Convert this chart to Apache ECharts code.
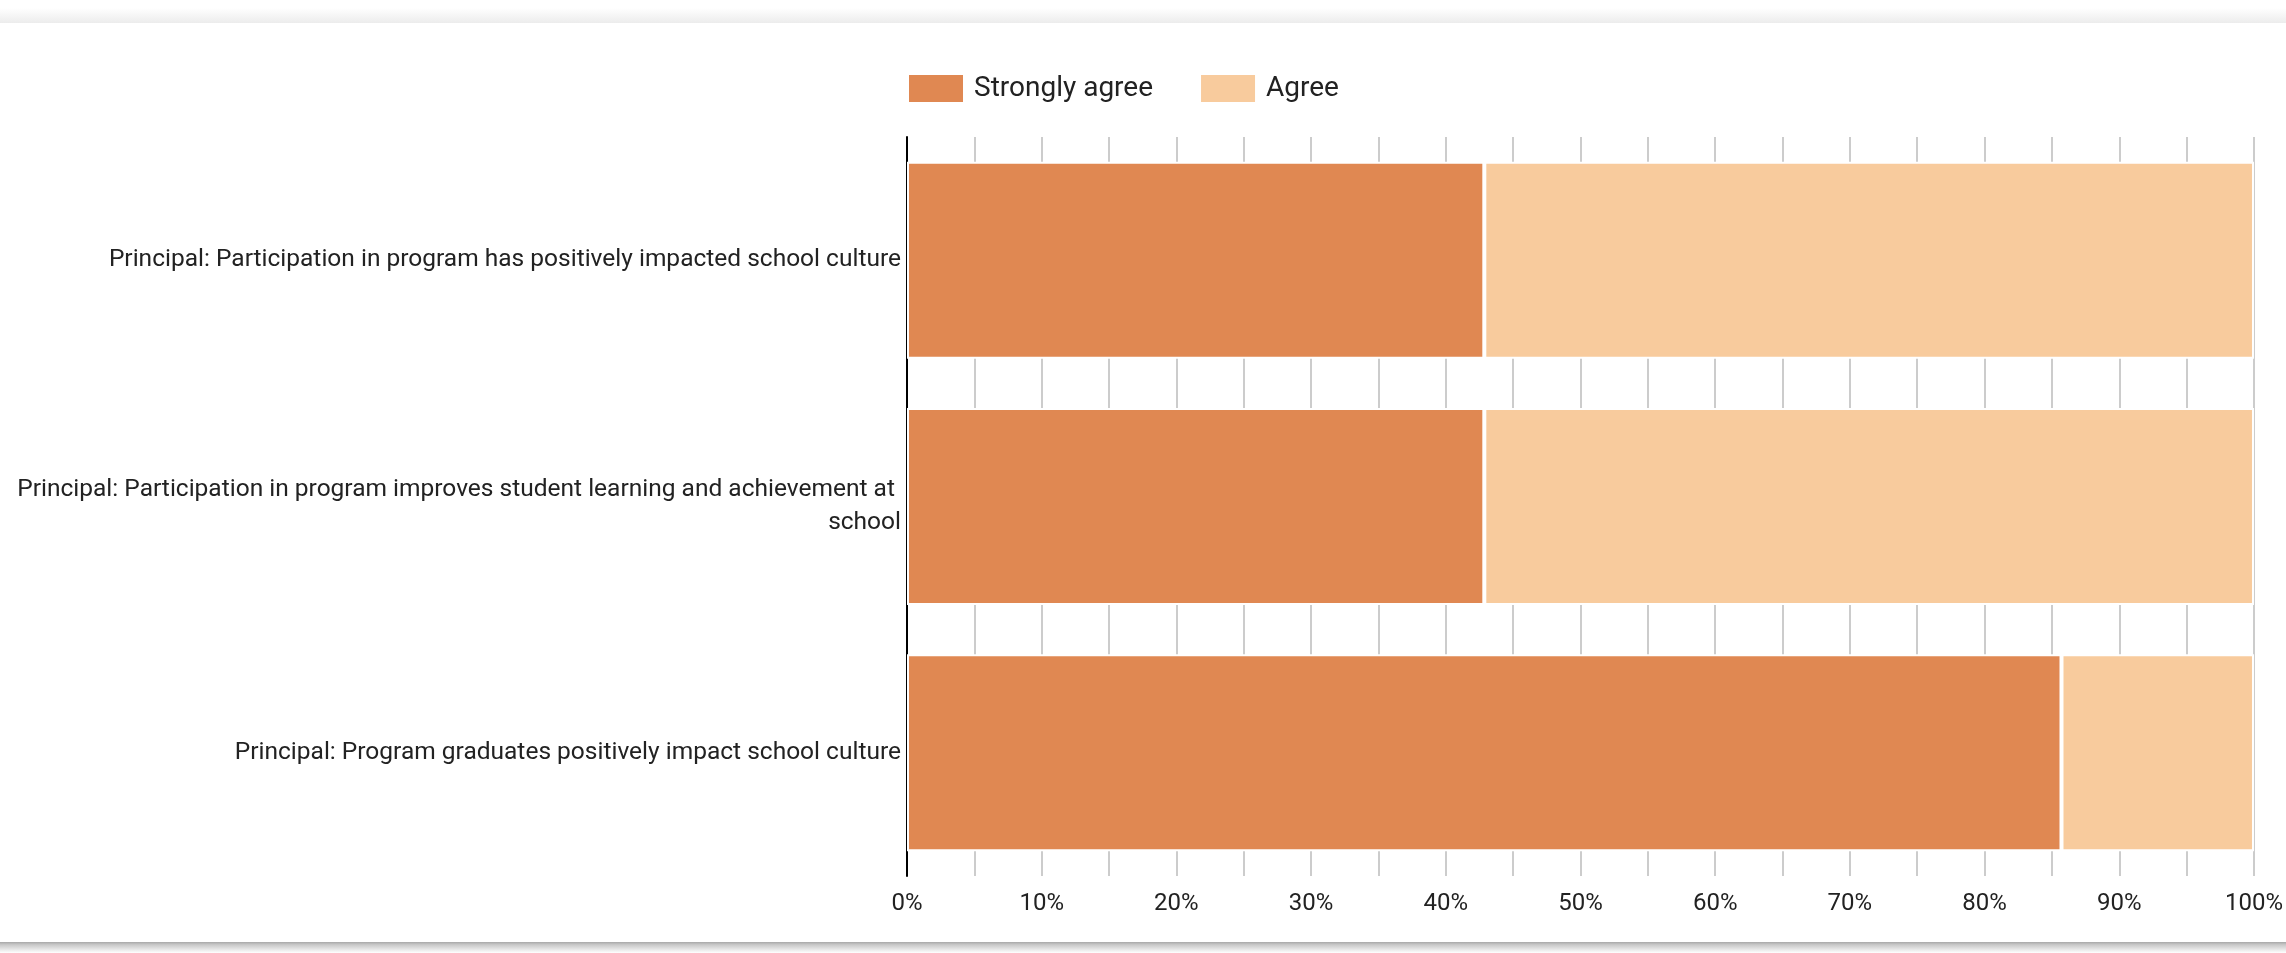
<!DOCTYPE html>
<html>
<head>
<meta charset="utf-8">
<script src="https://cdn.jsdelivr.net/npm/echarts@6/dist/echarts.min.js"></script>
<style>
html,body{margin:0;padding:0;background:#fff;}
#c{width:2286px;height:953px;}
</style>
</head>
<body>
<div id="c"></div>
<script>
const categories = [
  "Principal: Participation in program has positively impacted school culture",
  "Principal: Participation in program improves student learning and achievement at school",
  "Principal: Program graduates positively impact school culture"
];
const seriesNames = ["Strongly agree", "Agree"];
const stronglyAgree = [42.86, 42.86, 85.71];
const agree = [57.14, 57.14, 14.29];
const xTicks = [0, 10, 20, 30, 40, 50, 60, 70, 80, 90, 100];

const FONT = 'Roboto';
const chart = echarts.init(document.getElementById('c'), null, {renderer: 'canvas'});
chart.setOption({
  backgroundColor: '#fff',
  animation: false,
  textStyle: {fontFamily: FONT},
  graphic: [
    {type: 'rect', left: 0, top: 8, shape: {width: 2286, height: 15},
     style: {fill: new echarts.graphic.LinearGradient(0, 0, 0, 1, [
       {offset: 0, color: '#ffffff'}, {offset: 1, color: '#ececec'}])}, silent: true, z: -1},
    {type: 'rect', left: 0, top: 942, shape: {width: 2286, height: 11},
     style: {fill: new echarts.graphic.LinearGradient(0, 0, 0, 1, [
       {offset: 0, color: '#a8a8a8'}, {offset: 0.25, color: '#c8c8c8'}, {offset: 1, color: '#ffffff'}])}, silent: true, z: -1}
  ],
  legend: {
    data: seriesNames,
    left: 907,
    top: 73,
    padding: 0,
    icon: 'rect',
    itemWidth: 56,
    itemHeight: 29,
    itemGap: 46,
    textStyle: {fontSize: 28, color: '#222', fontFamily: FONT, padding: [0, 0, 0, 5]}
  },
  grid: {left: 907, right: 32, top: 137, bottom: 77, containLabel: false},
  xAxis: {
    type: 'value',
    min: xTicks[0],
    max: xTicks[xTicks.length - 1],
    interval: xTicks[1] - xTicks[0],
    axisLine: {show: false},
    axisTick: {show: false},
    minorTick: {show: false, splitNumber: 2},
    splitLine: {show: true, lineStyle: {color: '#cccccc', width: 2}},
    minorSplitLine: {show: true, lineStyle: {color: '#cccccc', width: 2}},
    axisLabel: {formatter: '{value}%', fontSize: 24, color: '#222', margin: 16, fontFamily: FONT}
  },
  yAxis: {
    type: 'category',
    inverse: true,
    data: categories,
    axisLine: {show: true, lineStyle: {color: '#000', width: 2}},
    axisTick: {show: false},
    splitLine: {show: false},
    axisLabel: {
      fontSize: 24.5, color: '#222', margin: 6, fontFamily: FONT,
      width: 890, overflow: 'break', lineHeight: 33, align: 'right'
    }
  },
  series: [
    {name: seriesNames[0], type: 'bar', stack: 's', data: stronglyAgree, barCategoryGap: '20%',
     itemStyle: {color: '#E08852', borderColor: '#fff', borderWidth: 2}},
    {name: seriesNames[1], type: 'bar', stack: 's', data: agree, barCategoryGap: '20%',
     itemStyle: {color: '#F8CB9D', borderColor: '#fff', borderWidth: 2}}
  ]
});
</script>
</body>
</html>
